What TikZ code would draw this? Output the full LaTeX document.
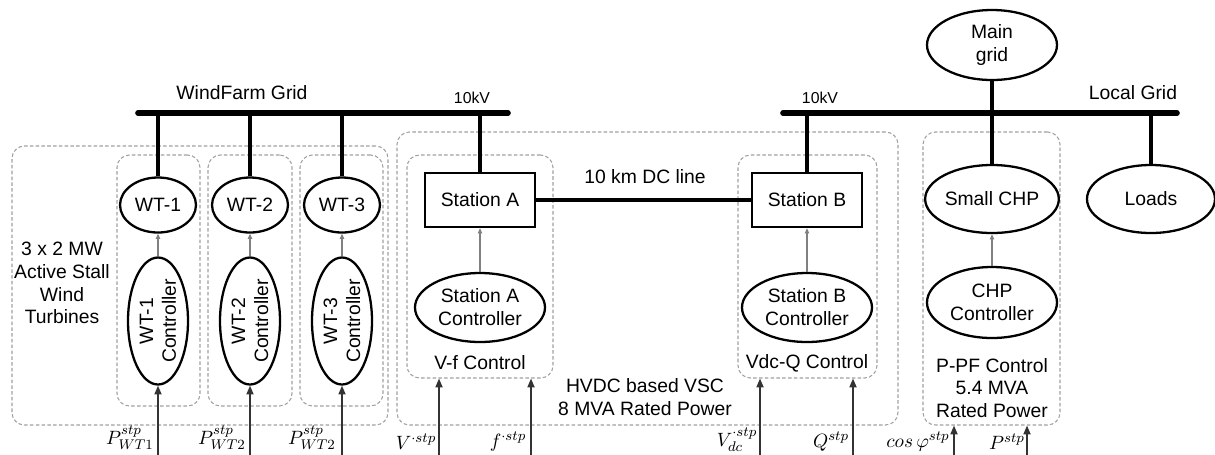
\documentclass[tikz,border=0pt]{standalone}
\usepackage{fontspec}
\setmainfont{Liberation Sans}
\usetikzlibrary{arrows.meta,shapes.geometric}

\begin{document}
\begin{tikzpicture}[
  txt/.style={align=center, font=\fontsize{11}{13}\selectfont},
  kv/.style={font=\fontsize{9}{10}\selectfont},
  unit/.style={txt, draw, ellipse, line width=1.3pt, inner sep=0pt},
  station/.style={txt, draw, rectangle, line width=1.3pt, minimum width=2.2cm, minimum height=1.08cm},
  grp/.style={draw=gray!75, dash pattern=on 2pt off 1.3pt, line width=0.6pt, rounded corners=0.25cm, inner sep=0pt},
  bus/.style={line width=3.2pt, line cap=round},
  feed/.style={line width=2pt},
  sig/.style={-{Triangle[length=3pt, width=2.5pt]}, gray, line width=0.6pt},
  inp/.style={-{Triangle[length=5pt, width=4pt]}, line width=0.9pt, black!80},
  inlbl/.style={font=\fontsize{11}{12}\selectfont}
]
\useasboundingbox (0,0) rectangle (24.3,-9.08);

% Dashed groups
\node[grp, minimum width=7.52cm, minimum height=5.58cm] (wfbox) at (4.0,-5.71) {};
\node[grp, minimum width=1.66cm, minimum height=5.02cm] (box1) at (3.17,-5.61) {};
\node[grp, minimum width=1.68cm, minimum height=5.02cm] (box2) at (5.0,-5.61) {};
\node[grp, minimum width=1.66cm, minimum height=5.02cm] (box3) at (6.83,-5.61) {};
\node[grp, minimum width=10.02cm, minimum height=5.86cm] (hvdcbox) at (12.95,-5.57) {};
\node[grp, minimum width=2.92cm, minimum height=4.46cm] (boxA) at (9.6,-5.33) {};
\node[grp, minimum width=2.78cm, minimum height=4.46cm] (boxB) at (16.15,-5.33) {};
\node[grp, minimum width=2.74cm, minimum height=5.86cm] (boxC) at (19.83,-5.57) {};

% Busbars
\coordinate (wfW) at (2.76,-2.26);
\coordinate (wfE) at (10.16,-2.26);
\coordinate (lgW) at (15.66,-2.26);
\coordinate (lgE) at (23.54,-2.26);
\draw[bus] (wfW) -- (wfE);
\draw[bus] (lgW) -- (lgE);
\node[txt] (wflbl) at (4.84,-1.86) {WindFarm Grid};
\node[kv] (kvA) at (9.44,-1.96) {10kV};
\node[kv] (kvB) at (16.4,-1.96) {10kV};
\node[txt] (lglbl) at (22.66,-1.86) {Local Grid};

% Left: wind farm
\node[txt] (wfnote) at (1.24,-5.66) {3 x 2 MW\\Active Stall\\Wind\\Turbines};
\node[unit, minimum width=1.52cm, minimum height=1.1cm] (wt1) at (3.16,-4.1) {WT-1};
\node[unit, minimum width=1.52cm, minimum height=1.1cm] (wt2) at (5.0,-4.1) {WT-2};
\node[unit, minimum width=1.52cm, minimum height=1.1cm] (wt3) at (6.84,-4.1) {WT-3};
\node[unit, rotate=90, minimum width=2.54cm, minimum height=1.2cm] (ctl1) at (3.16,-6.42) {WT-1\\Controller};
\node[unit, rotate=90, minimum width=2.54cm, minimum height=1.2cm] (ctl2) at (5.0,-6.42) {WT-2\\Controller};
\node[unit, rotate=90, minimum width=2.54cm, minimum height=1.2cm] (ctl3) at (6.84,-6.42) {WT-3\\Controller};
\draw[feed] (wt1.north) -- (wt1.north |- wfW);
\draw[feed] (wt2.north) -- (wt2.north |- wfW);
\draw[feed] (wt3.north) -- (wt3.north |- wfW);
\draw[sig] (ctl1.east) -- (wt1.south);
\draw[sig] (ctl2.east) -- (wt2.south);
\draw[sig] (ctl3.east) -- (wt3.south);

% Middle: HVDC link
\node[station] (stA) at (9.6,-4.0) {Station A};
\node[station] (stB) at (16.14,-4.0) {Station B};
\node[unit, minimum width=2.6cm, minimum height=1.38cm] (ctlA) at (9.6,-6.15) {Station A\\Controller};
\node[unit, minimum width=2.6cm, minimum height=1.38cm] (ctlB) at (16.14,-6.15) {Station B\\Controller};
\draw[feed] (stA.north) -- (stA.north |- wfW);
\draw[feed] (stB.north) -- (stB.north |- lgW);
\draw[feed] (stA.east) -- (stB.west);
\node[txt] (dclbl) at (12.9,-3.54) {10 km DC line};
\draw[sig] (ctlA.north) -- (stA.south);
\draw[sig] (ctlB.north) -- (stB.south);
\node[txt] (vflbl) at (9.6,-7.26) {V-f Control};
\node[txt] (vqlbl) at (16.14,-7.26) {Vdc-Q Control};
\node[txt] (hvdclbl) at (12.9,-7.94) {HVDC based VSC\\8 MVA Rated Power};

% Right: local grid
\node[unit, minimum width=2.6cm, minimum height=1.4cm] (mg) at (19.84,-0.9) {Main\\grid};
\node[unit, minimum width=2.64cm, minimum height=1.36cm] (chp) at (19.84,-3.98) {Small CHP};
\node[unit, minimum width=2.56cm, minimum height=1.36cm] (ld) at (23.02,-3.98) {Loads};
\node[unit, minimum width=2.6cm, minimum height=1.42cm] (ctlC) at (19.84,-6.05) {CHP\\Controller};
\draw[feed] (mg.south) -- (chp.north);
\draw[feed] (ld.north) -- (ld.north |- lgW);
\draw[sig] (ctlC.north) -- (chp.south);
\node[txt] (pflbl) at (19.84,-7.76) {P-PF Control\\5.4 MVA\\Rated Power};

% Set-points
\coordinate (in1) at (3.16,-9.2);
\coordinate (in2) at (5.0,-9.2);
\coordinate (in3) at (6.84,-9.2);
\coordinate (inV) at (8.78,-9.2);
\coordinate (inF) at (10.62,-9.2);
\coordinate (inVdc) at (15.2,-9.2);
\coordinate (inQ) at (17.06,-9.2);
\coordinate (inPF) at (19.08,-9.2);
\coordinate (inP) at (20.54,-9.2);
\draw[inp] (in1) -- (ctl1.west);
\draw[inp] (in2) -- (ctl2.west);
\draw[inp] (in3) -- (ctl3.west);
\draw[inp] (inV) -- (inV |- boxA.south);
\draw[inp] (inF) -- (inF |- boxA.south);
\draw[inp] (inVdc) -- (inVdc |- boxB.south);
\draw[inp] (inQ) -- (inQ |- boxB.south);
\draw[inp] (inPF) -- (inPF |- boxC.south);
\draw[inp] (inP) -- (inP |- boxC.south);
\node[inlbl] (lP1) at (2.6,-8.76) {$P^{stp}_{WT1}$};
\node[inlbl] (lP2) at (4.44,-8.76) {$P^{stp}_{WT2}$};
\node[inlbl] (lP3) at (6.24,-8.76) {$P^{stp}_{WT2}$};
\node[inlbl] (lV) at (8.32,-8.84) {$V^{\cdot stp}$};
\node[inlbl] (lF) at (10.16,-8.84) {$f^{\cdot stp}$};
\node[inlbl] (lVdc) at (14.74,-8.8) {$V^{\cdot stp}_{dc}$};
\node[inlbl] (lQ) at (16.62,-8.84) {$Q^{stp}$};
\node[inlbl] (lPF) at (18.36,-8.84) {$cos\,\varphi^{stp}$};
\node[inlbl] (lP) at (20.14,-8.84) {$P^{stp}$};

\end{tikzpicture}
\end{document}
